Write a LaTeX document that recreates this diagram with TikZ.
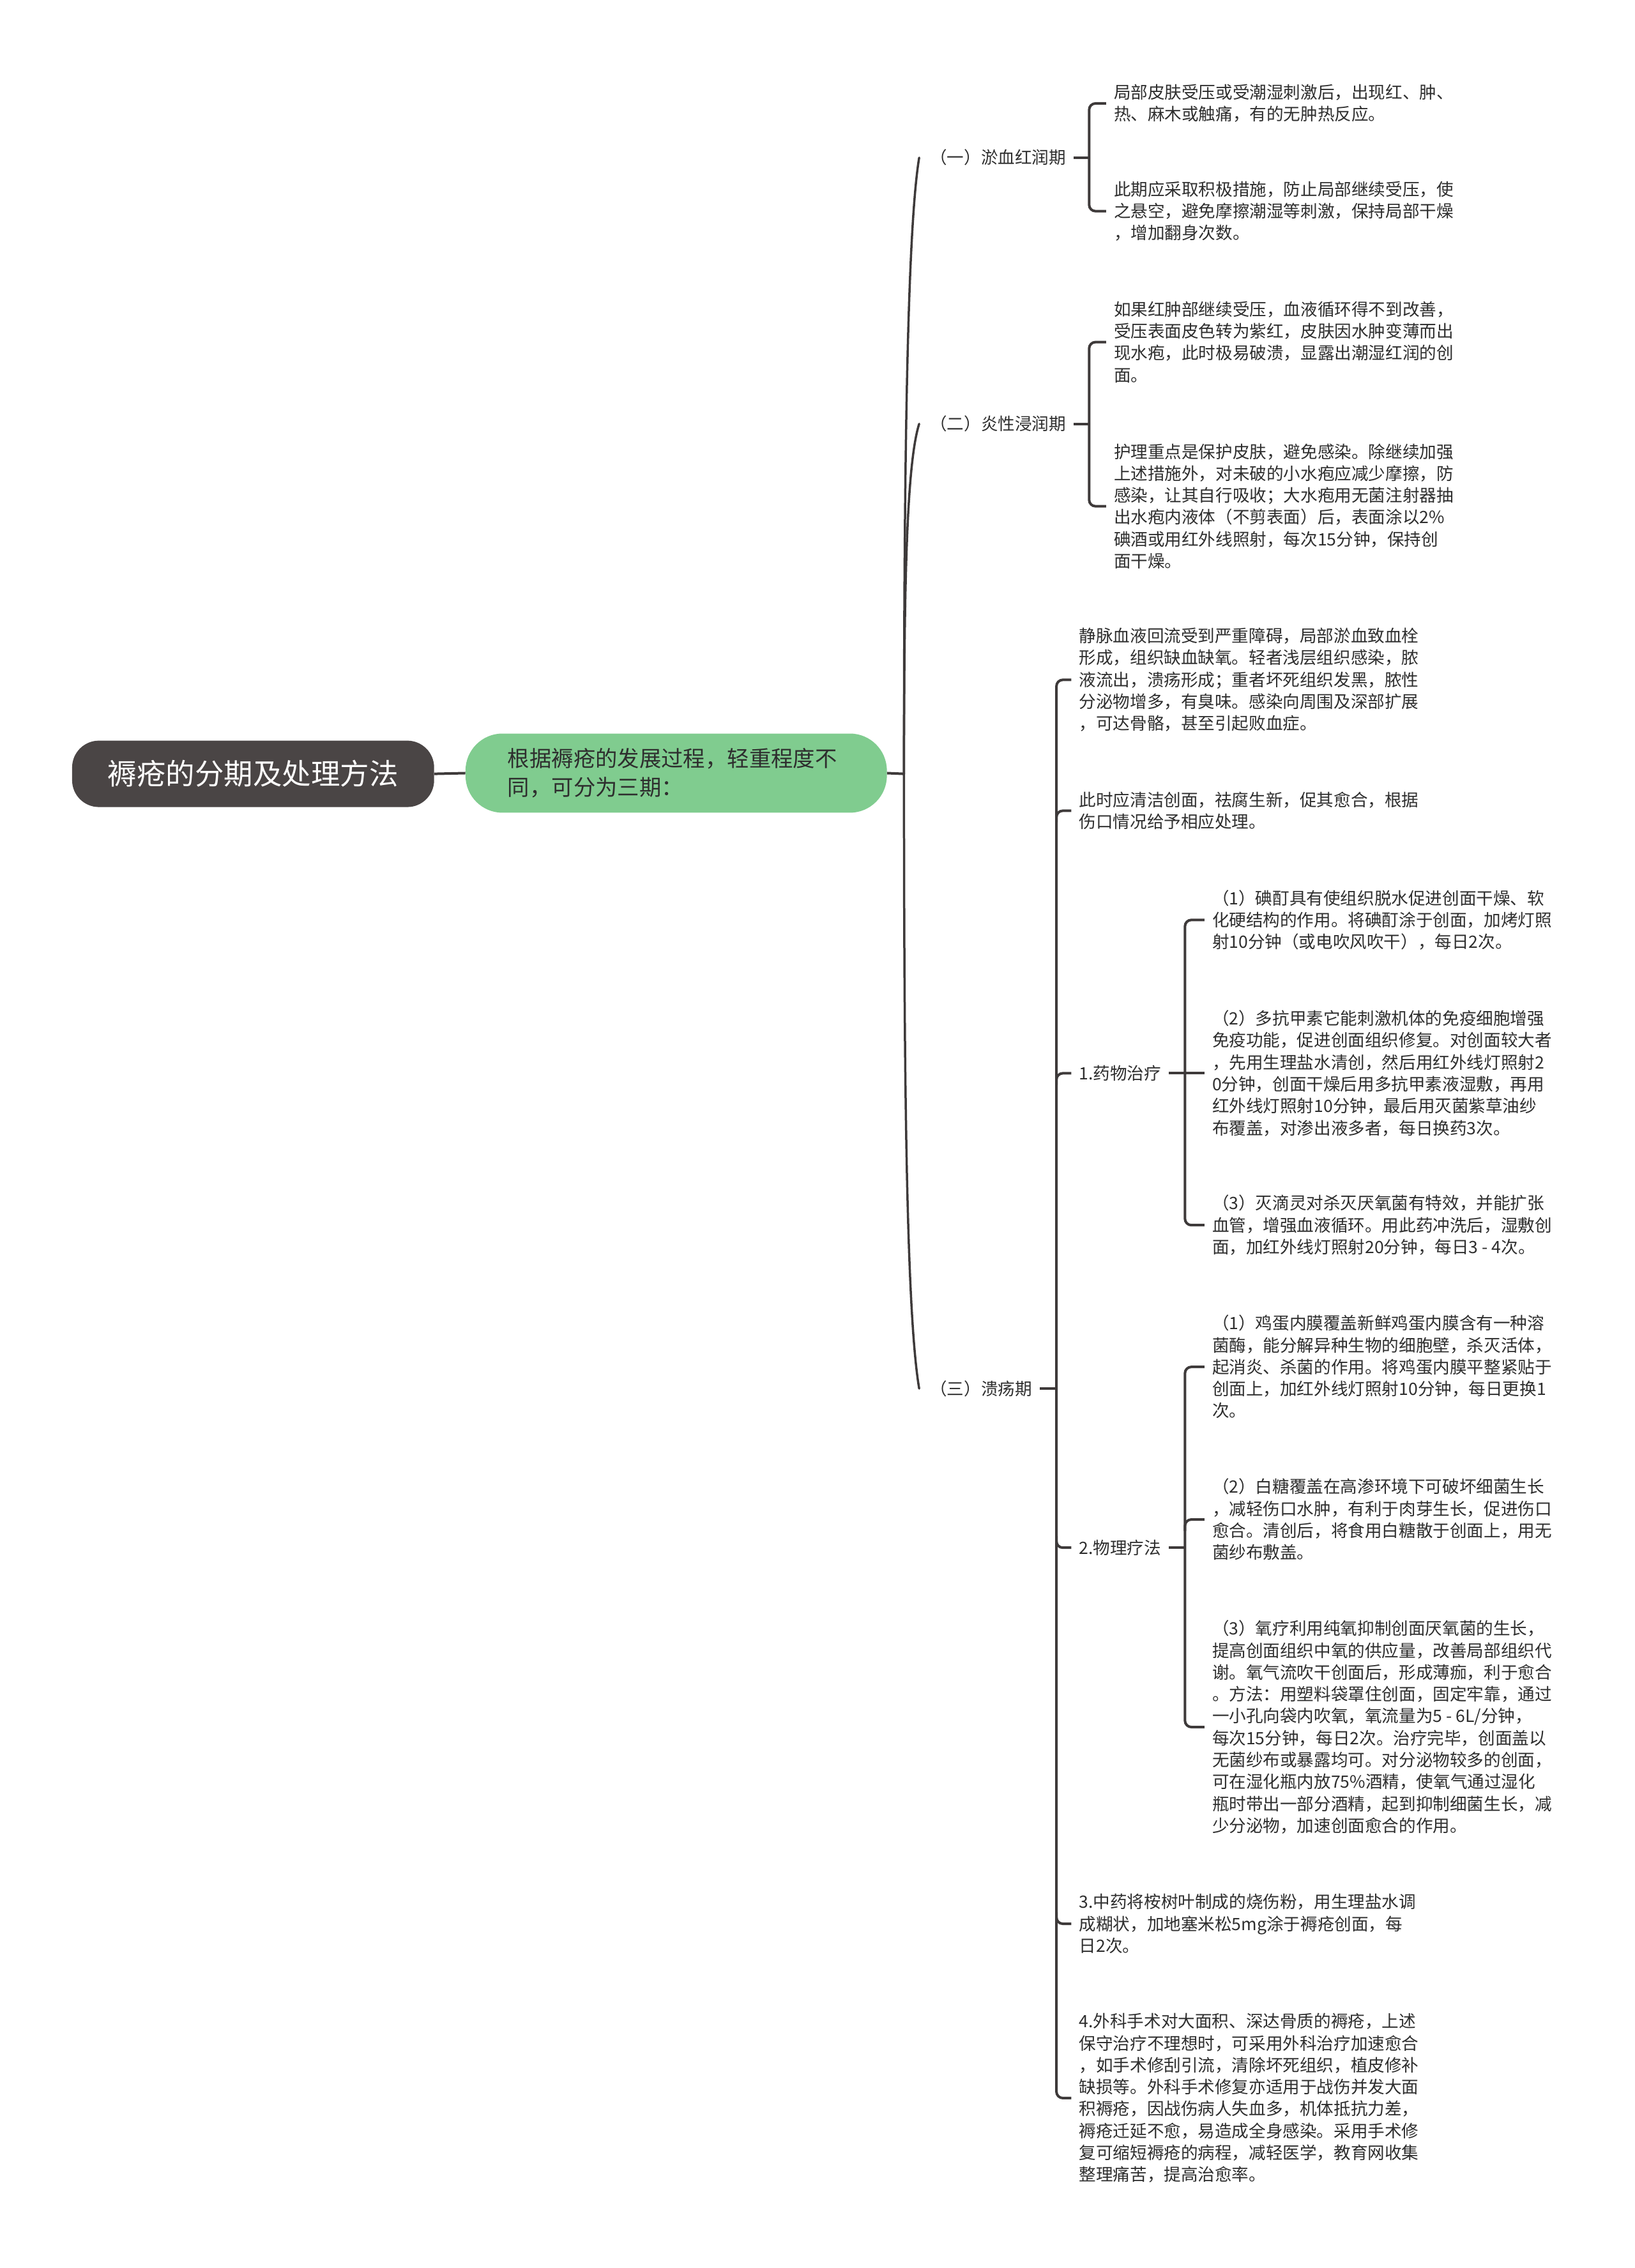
\documentclass[tikz,border=0pt]{standalone}
\usepackage{fontspec}
\setmainfont{Noto Sans CJK SC}

\definecolor{lineGray}{HTML}{3E3A3A}
\definecolor{rootGray}{HTML}{4A4545}
\definecolor{introGreen}{HTML}{80CC8F}
\definecolor{textGray}{HTML}{2E2E2E}

\begin{document}
\begin{tikzpicture}[
		x=2.2655pt, y=-2.2655pt,
		% Box styles for the first two levels
		rootBox/.style={fill=rootGray, text=white, rounded corners=42pt, minimum width=567pt, minimum height=104pt,
			font=\fontsize{45.5pt}{55pt}\selectfont, inner sep=0pt},
		introBox/.style={fill=introGreen, text=textGray, rounded corners=58pt, minimum height=124pt,
			text width=528pt, align=left, inner xsep=66pt, font=\fontsize{34.4pt}{45pt}\selectfont},
		% Text styles for the stages and the notes
		stageLabel/.style={anchor=west, text=textGray, inner xsep=12pt, inner ysep=4pt,
			font=\fontsize{26.6pt}{34.3pt}\selectfont},
		noteText/.style={stageLabel, align=left},
		% Line styles
		branchLine/.style={draw=lineGray, line width=3.5pt, line cap=round},
		bracketLine/.style={draw=lineGray, line width=4pt, rounded corners=10pt}
		]
		
		% page
		\path[fill=white, use as bounding box] (0,0) rectangle (1130,1568);
		
		% =========================================================
		% CENTRE: TITLE AND INTRO
		% =========================================================
		\node[rootBox] (Root) at (175,535) {褥疮的分期及处理方法};
		\node[introBox] (Intro) at (467.5,534.5) {根据褥疮的发展过程，轻重程度不\\同，可分为三期：};
		\coordinate (Trunk) at (625,535);
		
		\draw[bracketLine] (Root.east) -- (Intro.west);
		\draw[bracketLine] (Intro.east) -- (Trunk);
		
		% =========================================================
		% THE THREE STAGES
		% =========================================================
		\node[stageLabel] (StageOne) at (637.7,109) {（一）淤血红润期};
		\node[stageLabel] (StageTwo) at (637.7,293) {（二）炎性浸润期};
		\node[stageLabel] (StageThree) at (637.7,960) {（三）溃疡期};
		
		\draw[branchLine] (Trunk) .. controls (625,330) and (627,160) .. ([xshift=-5pt]StageOne.west);
		\draw[branchLine] (Trunk) .. controls (625,400) and (627,320) .. ([xshift=-5pt]StageTwo.west);
		\draw[branchLine] (Trunk) .. controls (625,760) and (627,910) .. ([xshift=-5pt]StageThree.west);
		
		% =========================================================
		% STAGE ONE
		% =========================================================
		\node[noteText] (OneA) at (764.7,71.5) {局部皮肤受压或受潮湿刺激后，出现红、肿、\\热、麻木或触痛，有的无肿热反应。};
		\node[noteText] (OneB) at (764.7,146) {此期应采取积极措施，防止局部继续受压，使\\之悬空，避免摩擦潮湿等刺激，保持局部干燥\\，增加翻身次数。};
		
		\coordinate (OneBar) at ([xshift=24pt]StageOne.east);
		\draw[bracketLine] (StageOne.east) -- (OneBar);
		\draw[bracketLine] (OneA.west) -| (OneBar |- OneB.west) -- (OneB.west);
		
		% =========================================================
		% STAGE TWO
		% =========================================================
		\node[noteText] (TwoA) at (764.7,236.5) {如果红肿部继续受压，血液循环得不到改善，\\受压表面皮色转为紫红，皮肤因水肿变薄而出\\现水疱，此时极易破溃，显露出潮湿红润的创\\面。};
		\node[noteText] (TwoB) at (764.7,350) {护理重点是保护皮肤，避免感染。除继续加强\\上述措施外，对未破的小水疱应减少摩擦，防\\感染，让其自行吸收；大水疱用无菌注射器抽\\出水疱内液体（不剪表面）后，表面涂以2\%\\碘酒或用红外线照射，每次15分钟，保持创\\面干燥。};
		
		\coordinate (TwoBar) at ([xshift=24pt]StageTwo.east);
		\draw[bracketLine] (StageTwo.east) -- (TwoBar);
		\draw[bracketLine] (TwoA.west) -| (TwoBar |- TwoB.west) -- (TwoB.west);
		
		% =========================================================
		% STAGE THREE
		% =========================================================
		\node[noteText] (ThreeA) at (740.7,470) {静脉血液回流受到严重障碍，局部淤血致血栓\\形成，组织缺血缺氧。轻者浅层组织感染，脓\\液流出，溃疡形成；重者坏死组织发黑，脓性\\分泌物增多，有臭味。感染向周围及深部扩展\\，可达骨骼，甚至引起败血症。};
		\node[noteText] (ThreeB) at (740.7,560.5) {此时应清洁创面，祛腐生新，促其愈合，根据\\伤口情况给予相应处理。};
		\node[stageLabel] (MedTreat) at (740.7,742) {1.药物治疗};
		\node[stageLabel] (PhysTreat) at (740.7,1070) {2.物理疗法};
		\node[noteText] (ThreeC) at (740.7,1330) {3.中药将桉树叶制成的烧伤粉，用生理盐水调\\成糊状，加地塞米松5mg涂于褥疮创面，每\\日2次。};
		\node[noteText] (ThreeD) at (740.7,1450.5) {4.外科手术对大面积、深达骨质的褥疮，上述\\保守治疗不理想时，可采用外科治疗加速愈合\\，如手术修刮引流，清除坏死组织，植皮修补\\缺损等。外科手术修复亦适用于战伤并发大面\\积褥疮，因战伤病人失血多，机体抵抗力差，\\褥疮迁延不愈，易造成全身感染。采用手术修\\复可缩短褥疮的病程，减轻医学，教育网收集\\整理痛苦，提高治愈率。};
		
		\coordinate (ThreeBar) at ([xshift=26pt]StageThree.east);
		\draw[bracketLine] (StageThree.east) -- (ThreeBar);
		\draw[bracketLine] (ThreeA.west) -| (ThreeBar |- ThreeD.west) -- (ThreeD.west);
		\draw[bracketLine] (ThreeB.west) -- (ThreeBar |- ThreeB.west) -- ++(0,8);
		\draw[bracketLine] (MedTreat.west) -- (ThreeBar |- MedTreat.west) -- ++(0,8);
		\draw[bracketLine] (PhysTreat.west) -- (ThreeBar |- PhysTreat.west) -- ++(0,-8);
		\draw[bracketLine] (ThreeC.west) -- (ThreeBar |- ThreeC.west) -- ++(0,-8);
		
		% 1. drug treatment
		\node[noteText] (MedA) at (832.7,636) {（1）碘酊具有使组织脱水促进创面干燥、软\\化硬结构的作用。将碘酊涂于创面，加烤灯照\\射10分钟（或电吹风吹干），每日2次。};
		\node[noteText] (MedB) at (832.7,742) {（2）多抗甲素它能刺激机体的免疫细胞增强\\免疫功能，促进创面组织修复。对创面较大者\\，先用生理盐水清创，然后用红外线灯照射2\\0分钟，创面干燥后用多抗甲素液湿敷，再用\\红外线灯照射10分钟，最后用灭菌紫草油纱\\布覆盖，对渗出液多者，每日换药3次。};
		\node[noteText] (MedC) at (832.7,847) {（3）灭滴灵对杀灭厌氧菌有特效，并能扩张\\血管，增强血液循环。用此药冲洗后，湿敷创\\面，加红外线灯照射20分钟，每日3 - 4次。};
		
		\coordinate (MedBar) at ([xshift=25pt]MedTreat.east);
		\draw[bracketLine] (MedTreat.east) -- (MedB.west);
		\draw[bracketLine] (MedA.west) -| (MedBar |- MedC.west) -- (MedC.west);
		
		% 2. physical treatment
		\node[noteText] (PhysA) at (832.7,945) {（1）鸡蛋内膜覆盖新鲜鸡蛋内膜含有一种溶\\菌酶，能分解异种生物的细胞壁，杀灭活体，\\起消炎、杀菌的作用。将鸡蛋内膜平整紧贴于\\创面上，加红外线灯照射10分钟，每日更换1\\次。};
		\node[noteText] (PhysB) at (832.7,1050.5) {（2）白糖覆盖在高渗环境下可破坏细菌生长\\，减轻伤口水肿，有利于肉芽生长，促进伤口\\愈合。清创后，将食用白糖散于创面上，用无\\菌纱布敷盖。};
		\node[noteText] (PhysC) at (832.7,1194) {（3）氧疗利用纯氧抑制创面厌氧菌的生长，\\提高创面组织中氧的供应量，改善局部组织代\\谢。氧气流吹干创面后，形成薄痂，利于愈合\\。方法：用塑料袋罩住创面，固定牢靠，通过\\一小孔向袋内吹氧，氧流量为5 - 6L/分钟，\\每次15分钟，每日2次。治疗完毕，创面盖以\\无菌纱布或暴露均可。对分泌物较多的创面，\\可在湿化瓶内放75\%酒精，使氧气通过湿化\\瓶时带出一部分酒精，起到抑制细菌生长，减\\少分泌物，加速创面愈合的作用。};
		
		\coordinate (PhysBar) at ([xshift=25pt]PhysTreat.east);
		\draw[bracketLine] (PhysTreat.east) -- (PhysBar);
		\draw[bracketLine] (PhysA.west) -| (PhysBar |- PhysC.west) -- (PhysC.west);
		\draw[bracketLine] (PhysB.west) -- (PhysBar |- PhysB.west) -- ++(0,8);
		
	\end{tikzpicture}
\end{document}
